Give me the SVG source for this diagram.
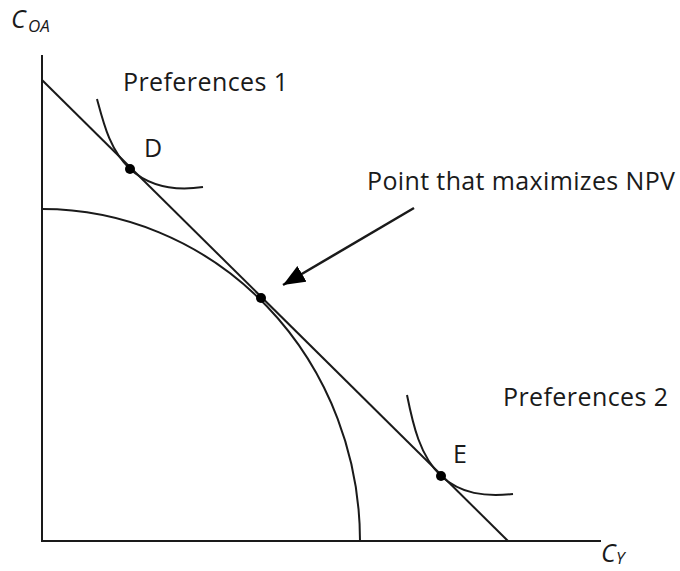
<svg xmlns="http://www.w3.org/2000/svg" width="680" height="571" viewBox="0 0 680 571">
<style>
.ln{fill:none;stroke:#1a1a1a;stroke-width:2}
.cv{fill:none;stroke:#1a1a1a;stroke-width:2}
.dot{fill:#000}
.t{font-family:"Open Sans","Liberation Sans",sans-serif;font-size:25px;fill:#1a1a1a}
.it{font-family:"Open Sans","Liberation Sans",sans-serif;font-style:italic;fill:#1a1a1a}
</style>
<defs>
<marker id="ah" markerUnits="userSpaceOnUse" markerWidth="24" markerHeight="20" refX="22" refY="9" orient="auto">
<path d="M0,0 L22,9 L0,18 Z" fill="#000"/>
</marker>
</defs>
<rect width="680" height="571" fill="#fff"/>
<g id="axes">
<line class="ln" x1="42" y1="55" x2="42" y2="542"/>
<line class="ln" x1="41" y1="541" x2="601" y2="541"/>
<text class="it" x="11" y="28" font-size="25">C</text>
<text class="it" x="28" y="32" font-size="17">OA</text>
<text class="it" x="601" y="562" font-size="25">C</text>
<text class="it" x="616" y="564" font-size="17">Y</text>
</g>
<g id="frontier">
<path class="cv" d="M42,209 A318,332 0 0 1 360,541"/>
</g>
<g id="budget-line">
<line class="ln" x1="42" y1="80" x2="508" y2="541"/>
</g>
<g id="preferences-1">
<path class="cv" d="M97,99 C104,125 110,150 130,169 C150,187 176,191 203,187"/>
<text class="t" x="123" y="91" textLength="165">Preferences 1</text>
</g>
<g id="point-d">
<circle class="dot" cx="130" cy="169" r="5"/>
<text class="t" x="144" y="157">D</text>
</g>
<g id="preferences-2">
<path class="cv" d="M407,395 C413,425 420,456 441,476 C461,494 485,497 513,494"/>
<text class="t" x="503" y="406" textLength="165">Preferences 2</text>
</g>
<g id="point-e">
<circle class="dot" cx="441" cy="476" r="5"/>
<text class="t" x="453" y="463">E</text>
</g>
<g id="npv-point">
<circle class="dot" cx="261" cy="298" r="5"/>
<text class="t" x="367" y="190" textLength="308">Point that maximizes NPV</text>
</g>
<g id="connectors">
<line x1="414" y1="208" x2="283" y2="285" stroke="#1a1a1a" stroke-width="2.5" marker-end="url(#ah)"/>
</g>
</svg>
